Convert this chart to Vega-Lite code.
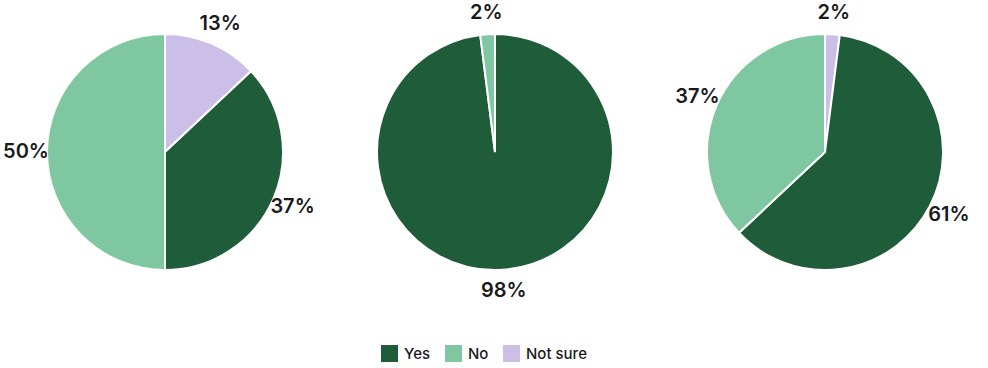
{
  "$schema": "https://vega.github.io/schema/vega-lite/v6.json",
  "padding": {"left": 3, "top": 3, "right": 0, "bottom": 0},
  "background": "white",
  "data": {
    "values": [
      {"chart": "A", "answer": "Not sure", "seq": 1, "share": 0.13},
      {"chart": "A", "answer": "Yes", "seq": 2, "share": 0.37},
      {"chart": "A", "answer": "No", "seq": 3, "share": 0.50},
      {"chart": "B", "answer": "Yes", "seq": 2, "share": 0.98},
      {"chart": "B", "answer": "No", "seq": 3, "share": 0.02},
      {"chart": "C", "answer": "Not sure", "seq": 1, "share": 0.02},
      {"chart": "C", "answer": "Yes", "seq": 2, "share": 0.61},
      {"chart": "C", "answer": "No", "seq": 3, "share": 0.37}
    ]
  },
  "facet": {
    "column": {"field": "chart", "type": "nominal", "sort": ["A", "B", "C"], "header": null}
  },
  "bounds": "flush",
  "spacing": 94,
  "spec": {
    "width": 236,
    "height": 236,
    "encoding": {
      "theta": {"field": "share", "type": "quantitative", "stack": true},
      "order": {"field": "seq", "type": "quantitative", "sort": "ascending"}
    },
    "layer": [
      {
        "mark": {"type": "arc", "outerRadius": 118, "stroke": "white", "strokeWidth": 2},
        "encoding": {
          "color": {
            "field": "answer",
            "type": "nominal",
            "scale": {"domain": ["Yes", "No", "Not sure"], "range": ["#1f5c39", "#7ec7a0", "#cbbfe8"]},
            "legend": {
              "title": null,
              "orient": "none",
              "direction": "horizontal",
              "legendX": 334,
              "legendY": 311,
              "symbolType": "square",
              "symbolSize": 289,
              "symbolStrokeWidth": 0,
              "symbolOpacity": 1,
              "labelFont": "Inter",
              "labelFontSize": 15,
              "labelFontWeight": 500,
              "labelColor": "#1a1a1a",
              "columnPadding": 14,
              "labelOffset": 6
            }
          }
        }
      },
      {
        "mark": {"type": "text", "radius": 139, "font": "Inter", "fontSize": 20, "fontWeight": 600, "color": "#1a1a1a"},
        "encoding": {
          "text": {"field": "share", "type": "quantitative", "format": ".0%"}
        }
      }
    ]
  },
  "config": {"view": {"stroke": null}}
}
